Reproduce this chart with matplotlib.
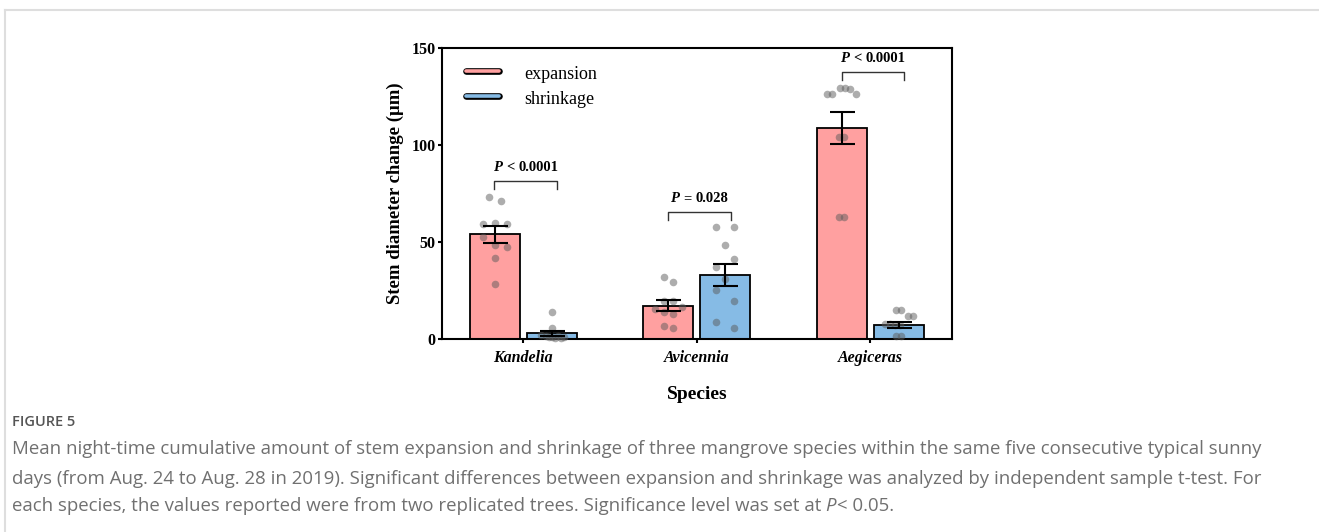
import matplotlib
matplotlib.use("Agg")
import matplotlib.pyplot as plt
import numpy as np
from matplotlib.lines import Line2D
from matplotlib.transforms import IdentityTransform

# values (um)
species = ["Kandelia", "Avicennia", "Aegiceras"]
expansion_mean = [54.0, 17.2, 108.8]
expansion_sem = [4.3, 2.8, 8.4]
shrinkage_mean = [2.9, 33.0, 7.2]
shrinkage_sem = [1.2, 5.8, 1.5]

expansion_points = [
    [73.4, 71.1, 59.3, 59.6, 59.3, 52.4, 48.5, 47.3, 41.8, 28.4],
    [32.1, 29.2, 19.7, 19.7, 15.5, 13.8, 12.9, 16.7, 6.9, 5.5],
    [126.1, 126.1, 129.2, 129.2, 129.0, 126.1, 104.0, 104.0, 63.1, 63.1],
]
shrinkage_points = [
    [14.1, 5.8, 2.0, 1.6, 1.3, 1.1, 1.0, 0.8, 0.7, 0.6],
    [57.6, 57.6, 48.5, 41.2, 37.0, 30.8, 25.3, 19.8, 8.9, 5.5],
    [14.9, 14.9, 12.0, 12.0, 7.8, 7.6, 7.4, 7.2, 1.7, 1.7],
]

p_ops = ["<", "=", "<"]
p_values = ["0.0001", "0.028", "0.0001"]
bracket_y = [81.6, 65.6, 137.8]

# horizontal scatter of the dots, in pixels
expansion_jitter = [
    [-6, 6, -12, 0, 12, -12, 0, 12, 0, 0],
    [-4.5, 4.5, -4.5, 4.5, -13.5, -4.5, 4.5, 13.5, -4.5, 4.5],
    [-14.7, -9.7, -1.7, 3, 8, 14, -2.5, 2.5, -2.5, 2.5],
]
shrinkage_jitter = [
    [0, 0, -11, -6, 6, 12, 0, -3, 3, 9],
    [-9, 9, 0, 9, -9, 0, -9, 9, -9, 9],
    [-2.5, 2.5, 9.5, 14, -14, -9, -4, 1, -2.5, 2.5],
]

caption = [
    "Mean night-time cumulative amount of stem expansion and shrinkage of three mangrove species within the same five consecutive typical sunny",
    "days (from Aug. 24 to Aug. 28 in 2019). Significant differences between expansion and shrinkage was analyzed by independent sample t-test. For",
    "each species, the values reported were from two replicated trees. Significance level was set at",
]

PINK = "#ffa0a0"
BLUE = "#86bbe5"
SERIF = "Liberation Serif"
PX_PER_UNIT = 173.5


def draw_runs(fig, x, y, runs, align="left"):
    # place text pieces with different styles side by side (display pixels)
    r = fig.canvas.get_renderer()
    items = []
    total = 0
    for s, props, gap in runs:
        t = fig.text(0, 0, s, transform=IdentityTransform(), ha="left", va="baseline", **props)
        w = t.get_window_extent(r).width
        items.append((t, w, gap))
        total += w + gap
    total -= items[-1][2]
    cur = x - total / 2 if align == "center" else x
    for t, w, gap in items:
        t.set_position((cur, y))
        cur += w + gap


fig = plt.figure(figsize=(13.19, 5.32), dpi=100)
ax = fig.add_axes([442 / 1319, 1 - 339 / 532, 509.5 / 1319, 291 / 532])

x = np.arange(len(species))
off = 0.164
width = 0.288

ax.bar(x - off, expansion_mean, width, color=PINK, edgecolor="black", linewidth=1.3, zorder=2)
ax.bar(x + off, shrinkage_mean, width, color=BLUE, edgecolor="black", linewidth=1.3, zorder=2)

for i in range(len(species)):
    xs = i - off + np.array(expansion_jitter[i]) / PX_PER_UNIT
    ax.scatter(xs, expansion_points[i], s=30, color="#5c5c5c", alpha=0.5, linewidths=0, zorder=3, clip_on=False)
    xs = i + off + np.array(shrinkage_jitter[i]) / PX_PER_UNIT
    ax.scatter(xs, shrinkage_points[i], s=30, color="#5c5c5c", alpha=0.5, linewidths=0, zorder=3, clip_on=False)

ax.errorbar(x - off, expansion_mean, yerr=expansion_sem, fmt="none", ecolor="black",
            elinewidth=1.5, capsize=9, capthick=1.5, zorder=4)
ax.errorbar(x + off, shrinkage_mean, yerr=shrinkage_sem, fmt="none", ecolor="black",
            elinewidth=1.5, capsize=9, capthick=1.5, zorder=4)

ax.set_xlim(-0.467, 2.467)
ax.set_ylim(0, 150)
ax.set_yticks([0, 50, 100, 150])
ax.set_xticks(x)
ax.set_xticklabels(species, fontfamily=SERIF, fontweight="bold", fontstyle="italic", fontsize=11.5)
for lab in ax.get_yticklabels():
    lab.set_fontfamily(SERIF)
    lab.set_fontweight("bold")
    lab.set_fontsize(11.5)
ax.tick_params(axis="y", direction="out", length=3, width=1.5, pad=1.5)
ax.tick_params(axis="x", direction="out", length=3, width=1.5, pad=5)
for sp in ax.spines.values():
    sp.set_linewidth(1.5)

ax.set_ylabel("Stem diameter change (\u03bcm)", fontfamily=SERIF, fontweight="bold", fontsize=13.5)
ax.yaxis.set_label_coords(-0.074, 0.5)
ax.set_xlabel("Species", fontfamily=SERIF, fontweight="bold", fontsize=14)
ax.xaxis.set_label_coords(0.5, -0.162)

# significance brackets
for i in range(len(species)):
    x1, x2 = i - 0.165, i + 0.195
    yb = bracket_y[i]
    ax.plot([x1, x1, x2, x2], [yb - 4.5, yb, yb, yb - 4.5], color="#333333", lw=1.0, zorder=5)
    cx, cy = ax.transData.transform(((x1 + x2) / 2, yb + 5.1))
    draw_runs(fig, cx, cy, [
        ("P", dict(fontfamily=SERIF, fontweight="bold", fontstyle="italic", fontsize=10.5), 4),
        (p_ops[i], dict(fontfamily=SERIF, fontweight="bold", fontsize=10.5), 4),
        (p_values[i], dict(fontfamily=SERIF, fontweight="bold", fontsize=10.5), 0),
    ], align="center")

# legend with rounded swatches
for yy, col, name in [(0.9216, PINK, "expansion"), (0.8357, BLUE, "shrinkage")]:
    ax.add_line(Line2D([0.047, 0.111], [yy, yy], transform=ax.transAxes, color="black",
                       lw=4.8, solid_capstyle="round", zorder=6))
    ax.add_line(Line2D([0.047, 0.111], [yy, yy], transform=ax.transAxes, color=col,
                       lw=2.6, solid_capstyle="round", zorder=7))
    ax.text(0.161, yy - 0.011, name, transform=ax.transAxes, fontfamily=SERIF, fontsize=13, va="center")

# panel frame
fig.add_artist(Line2D([5 / 1319, 1], [1 - 10 / 532] * 2, transform=fig.transFigure, color="#dedede", lw=1.5))
fig.add_artist(Line2D([5 / 1319] * 2, [0, 1 - 10 / 532], transform=fig.transFigure, color="#dedede", lw=1.5))

# caption
CAP = dict(fontfamily="Open Sans", fontsize=13.4, color="#707070")
fig.text(12, 532 - 426, "FIGURE 5", transform=IdentityTransform(), fontfamily="Open Sans",
         fontweight="semibold", fontsize=10.5, color="#555555", va="baseline")
fig.text(12, 532 - 454.5, caption[0], transform=IdentityTransform(), va="baseline", **CAP)
fig.text(12, 532 - 483.5, caption[1], transform=IdentityTransform(), va="baseline", **CAP)
draw_runs(fig, 12, 532 - 511, [
    (caption[2], CAP, 4),
    ("P", dict(CAP, fontstyle="italic"), 1),
    ("< 0.05.", CAP, 0),
])

fig.savefig("out.png", dpi=100)
